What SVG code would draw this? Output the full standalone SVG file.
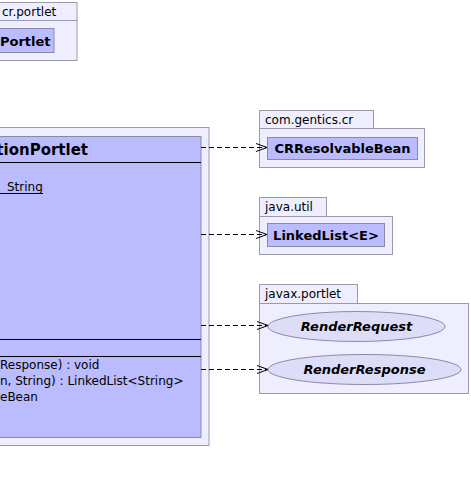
<svg xmlns="http://www.w3.org/2000/svg" width="471" height="484" viewBox="0 0 471 484">
<defs>
<style>
.pkg{fill:#EEEEFF;stroke:#9A9AAA;stroke-width:1}
.cls{fill:#BBBBFF;stroke:#8A8AA8;stroke-width:1}
.ell{fill:#DDDDF8;stroke:#8A8AA8;stroke-width:1}
.t{font-family:"DejaVu Sans",Verdana,sans-serif;fill:#000}
.tab{font-size:12px}
.cn{font-size:13px;font-weight:bold}
.mem{font-size:12px}
.it{font-size:13px;font-weight:bold;font-style:italic}
.dep{fill:none;stroke:#000;stroke-width:1;stroke-dasharray:5,3}
.sep{stroke:#000;stroke-width:1}
</style>
<marker id="open" markerWidth="12" markerHeight="10" refX="11" refY="5" orient="auto" markerUnits="userSpaceOnUse">
<path d="M0,1 L11,5 L0,9" fill="none" stroke="#000" stroke-width="1"/>
</marker>
</defs>
<g id="pkg-cr-portlet">
<rect class="pkg" x="-5" y="2.5" width="82" height="18"/>
<rect class="pkg" x="-5" y="20.5" width="82" height="40"/>
<text class="t tab" x="2" y="16">cr.portlet</text>
<g id="Portlet">
<rect class="cls" x="-5" y="28.5" width="59" height="24"/>
<text class="t cn" x="0" y="45.5">Portlet</text>
</g>
</g>
<g id="pkg-main">
<rect class="pkg" x="-5" y="127.5" width="214" height="318"/>
<g id="MainPortlet">
<rect class="cls" x="-5" y="136.5" width="206" height="301"/>
<text class="t" x="88" y="155" text-anchor="end" style="font-size:15px;font-weight:bold">tionPortlet</text>
<line class="sep" x1="-5" y1="162.5" x2="201" y2="162.5"/>
<text class="t mem" x="7" y="191">String</text>
<line class="sep" x1="0" y1="193.5" x2="43" y2="193.5"/>
<line class="sep" x1="-5" y1="339.5" x2="201" y2="339.5"/>
<line class="sep" x1="-5" y1="356.5" x2="201" y2="356.5"/>
<text class="t mem" x="0" y="369">Response) : void</text>
<text class="t mem" x="0" y="385">n, String) : LinkedList&lt;String&gt;</text>
<text class="t mem" x="0" y="401">eBean</text>
</g>
</g>
<g id="pkg-com-gentics-cr">
<rect class="pkg" x="259.5" y="110.5" width="114" height="18"/>
<rect class="pkg" x="259.5" y="128.5" width="165" height="39"/>
<text class="t tab" x="265" y="124">com.gentics.cr</text>
<g id="CRResolvableBean">
<rect class="cls" x="267.5" y="137.5" width="150" height="22"/>
<text class="t cn" x="342.5" y="153" text-anchor="middle">CRResolvableBean</text>
</g>
</g>
<g id="pkg-java-util">
<rect class="pkg" x="259.5" y="197.5" width="67" height="19"/>
<rect class="pkg" x="259.5" y="216.5" width="133" height="38"/>
<text class="t tab" x="265" y="211">java.util</text>
<g id="LinkedList">
<rect class="cls" x="267.5" y="223.5" width="117" height="23"/>
<text class="t cn" x="326" y="239.5" text-anchor="middle">LinkedList&lt;E&gt;</text>
</g>
</g>
<g id="pkg-javax-portlet">
<rect class="pkg" x="259.5" y="284.5" width="98" height="19"/>
<rect class="pkg" x="259.5" y="303.5" width="209" height="90"/>
<text class="t tab" x="265" y="298">javax.portlet</text>
<g id="RenderRequest">
<ellipse class="ell" cx="356.5" cy="326.5" rx="88.5" ry="15"/>
<text class="t it" x="356.5" y="331" text-anchor="middle">RenderRequest</text>
</g>
<g id="RenderResponse">
<ellipse class="ell" cx="364.5" cy="369.5" rx="96.5" ry="15"/>
<text class="t it" x="364.5" y="374" text-anchor="middle">RenderResponse</text>
</g>
</g>
<g id="connectors">
<line class="dep" x1="201" y1="147.5" x2="267" y2="147.5" marker-end="url(#open)"/>
<line class="dep" x1="201" y1="234.5" x2="267" y2="234.5" marker-end="url(#open)"/>
<line class="dep" x1="201" y1="325.5" x2="268" y2="325.5" marker-end="url(#open)"/>
<line class="dep" x1="201" y1="369.5" x2="268" y2="369.5" marker-end="url(#open)"/>
</g>
</svg>
